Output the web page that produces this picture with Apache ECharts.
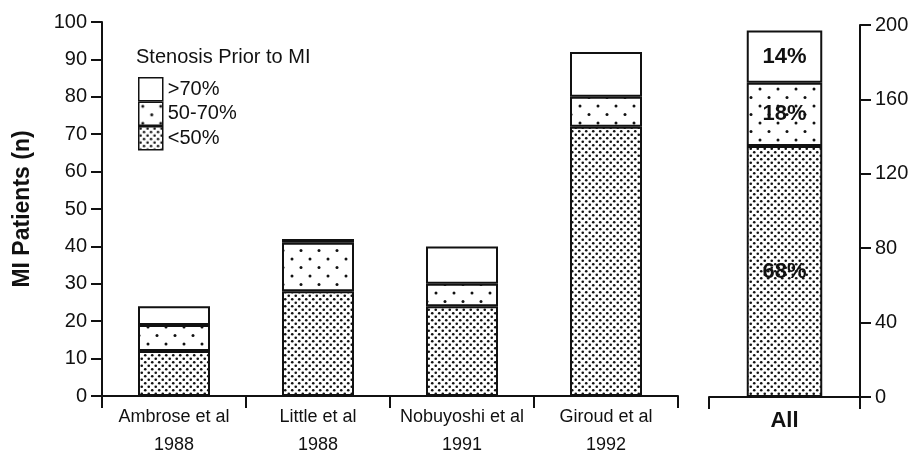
<!DOCTYPE html>
<html>
<head>
<meta charset="utf-8">
<script src="https://cdn.jsdelivr.net/npm/echarts@6/dist/echarts.min.js"></script>
<style>
  html, body { margin: 0; padding: 0; background: #fff; }
  #chart { width: 914px; height: 452px; }
</style>
</head>
<body>
<div id="chart"></div>
<script>
// data
var studies = ['Ambrose et al\n1988', 'Little et al\n1988', 'Nobuyoshi et al\n1991', 'Giroud et al\n1992'];
var below50 = [12, 28, 24, 72];
var mid50to70 = [7, 13, 6, 8];
var over70 = [5, 1, 10, 12];

var allCategory = ['All'];
var allValues = [135, 34, 28];          // <50%, 50-70%, >70%
var allLabels = ['68%', '18%', '14%'];

var leftTicks = { min: 0, max: 100, interval: 10 };
var rightTicks = { min: 0, max: 200, interval: 40 };

var FONT = '"Liberation Sans", Arial, Helvetica, sans-serif';
var INK = '#111';

// dotted fills
function makePattern(w, h, dots, r) {
    var c = document.createElement('canvas');
    c.width = w;
    c.height = h;
    var ctx = c.getContext('2d');
    ctx.fillStyle = '#fff';
    ctx.fillRect(0, 0, w, h);
    ctx.fillStyle = INK;
    dots.forEach(function(d) {
        ctx.beginPath();
        ctx.arc(d[0], d[1], r, 0, Math.PI * 2);
        ctx.fill();
    });
    return { image: c, repeat: 'repeat' };
}

var denseFill = makePattern(7, 7, [[1.75, 1.75], [5.25, 5.25]], 1.3);
var sparseFill = makePattern(18, 17, [[4, 4], [13, 12.5]], 1.5);

function barStyle(fill) {
    return { color: fill, borderColor: INK, borderWidth: 2 };
}

var chart = echarts.init(document.getElementById('chart'));

var option = {
    animation: false,
    backgroundColor: '#fff',
    title: {
        text: 'Stenosis Prior to MI',
        left: 136,
        top: 47,
        padding: 0,
        textStyle: { fontFamily: FONT, fontSize: 20, fontWeight: 'normal', color: INK }
    },
    legend: {
        data: ['>70%', '50-70%', '<50%'],
        orient: 'vertical',
        left: 138,
        top: 77,
        padding: 0,
        itemWidth: 24,
        itemHeight: 23,
        itemGap: 0,
        icon: 'rect',
        itemStyle: { borderColor: INK, borderWidth: 1.5 },
        textStyle: { fontFamily: FONT, fontSize: 20, color: INK, lineHeight: 23 }
    },
    grid: [
        { left: 102, top: 22, width: 576, bottom: 56, outerBoundsMode: 'none' },
        { left: 709, top: 25, width: 151, bottom: 55, outerBoundsMode: 'none' }
    ],
    xAxis: [
        {
            type: 'category', gridIndex: 0, data: studies,
            axisLine: { lineStyle: { color: INK, width: 2 } },
            axisTick: { show: true, length: 12, lineStyle: { color: INK, width: 2 } },
            axisLabel: { interval: 0, fontFamily: FONT, fontSize: 18, color: INK, lineHeight: 28, margin: 7 }
        },
        {
            type: 'category', gridIndex: 1, data: allCategory,
            axisLine: { lineStyle: { color: INK, width: 2 } },
            axisTick: { show: true, length: 12, lineStyle: { color: INK, width: 2 } },
            axisLabel: { interval: 0, fontFamily: FONT, fontSize: 22, fontWeight: 'bold', color: INK, margin: 13 }
        }
    ],
    yAxis: [
        {
            type: 'value', gridIndex: 0,
            min: leftTicks.min, max: leftTicks.max, interval: leftTicks.interval,
            name: 'MI Patients (n)',
            nameLocation: 'middle',
            nameGap: 68,
            nameRotate: 90,
            nameTextStyle: { fontFamily: FONT, fontSize: 23, fontWeight: 'bold', color: INK },
            axisLine: { show: true, lineStyle: { color: INK, width: 2 } },
            axisTick: { show: true, length: 11, lineStyle: { color: INK, width: 2 } },
            axisLabel: { fontFamily: FONT, fontSize: 20, color: INK, margin: 15 },
            splitLine: { show: false }
        },
        {
            type: 'value', gridIndex: 1, position: 'right',
            min: rightTicks.min, max: rightTicks.max, interval: rightTicks.interval,
            axisLine: { show: true, lineStyle: { color: INK, width: 2 } },
            axisTick: { show: true, length: 11, lineStyle: { color: INK, width: 2 } },
            axisLabel: { fontFamily: FONT, fontSize: 20, color: INK, margin: 15 },
            splitLine: { show: false }
        }
    ],
    series: [
        { name: '<50%', type: 'bar', stack: 'study', xAxisIndex: 0, yAxisIndex: 0, barWidth: '50%',
          itemStyle: barStyle(denseFill), data: below50 },
        { name: '50-70%', type: 'bar', stack: 'study', xAxisIndex: 0, yAxisIndex: 0, barWidth: '50%',
          itemStyle: barStyle(sparseFill), data: mid50to70 },
        { name: '>70%', type: 'bar', stack: 'study', xAxisIndex: 0, yAxisIndex: 0, barWidth: '50%',
          itemStyle: barStyle('#fff'), data: over70 }
    ]
};

// the pooled bar on the right axis, with its share labels
var allFills = [denseFill, sparseFill, '#fff'];
['<50%', '50-70%', '>70%'].forEach(function(name, i) {
    option.series.push({
        name: name, type: 'bar', stack: 'all', xAxisIndex: 1, yAxisIndex: 1, barWidth: '50%',
        itemStyle: barStyle(allFills[i]),
        label: {
            show: true, position: 'inside', formatter: allLabels[i],
            fontFamily: FONT, fontSize: 22, fontWeight: 'bold', color: INK
        },
        data: [allValues[i]]
    });
});

chart.setOption(option);
</script>
</body>
</html>
